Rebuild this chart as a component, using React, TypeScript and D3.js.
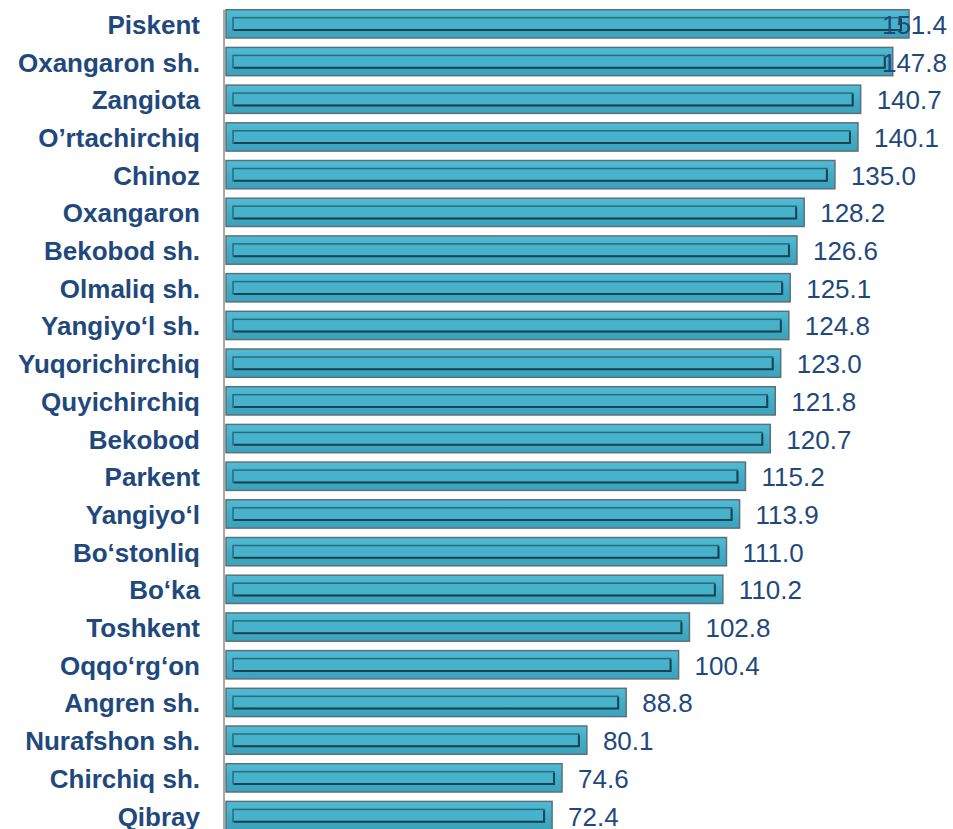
import React from 'react';
import * as d3 from 'd3';

// districts, top to bottom
const categories = [
  'Piskent', 'Oxangaron sh.', 'Zangiota', 'O’rtachirchiq', 'Chinoz', 'Oxangaron ',
  'Bekobod sh.', 'Olmaliq sh.', 'Yangiyo‘l sh.', 'Yuqorichirchiq', 'Quyichirchiq',
  'Bekobod', 'Parkent', 'Yangiyo‘l', 'Bo‘stonliq', 'Bo‘ka', 'Toshkent', 'Oqqo‘rg‘on',
  'Angren sh.', 'Nurafshon sh.', 'Chirchiq sh.', 'Qibray',
];
const values = [
  151.4, 147.8, 140.7, 140.1, 135.0, 128.2, 126.6, 125.1, 124.8, 123.0, 121.8,
  120.7, 115.2, 113.9, 111.0, 110.2, 102.8, 100.4, 88.8, 80.1, 74.6, 72.4,
];

const width = 953;
const height = 829;
const margin = { top: 5, left: 225, rightEdge: 947 };
const fontSize = 26;
const textColor = '#1f497d';

// rough width of a number label in Arial at fontSize
const labelWidth = (s: string) =>
  s.split('').reduce((w, c) => w + (c === '.' ? 0.278 : 0.556), 0) * fontSize;

const App = () => {
  const x = d3.scaleLinear().domain([0, 151.4]).range([margin.left, 909]);
  const y = d3.scaleBand<string>()
    .domain(categories)
    .range([margin.top, margin.top + categories.length * 37.7])
    .paddingInner(0.25)
    .paddingOuter(0.125);
  const bh = y.bandwidth();

  return (
    <svg width={width} height={height} style={{ position: 'absolute', left: 0, top: 0 }}
      fontFamily="'Liberation Sans', Arial, sans-serif">
      <defs>
        <linearGradient id="barFill" x1="0" y1="0" x2="0" y2="1">
          <stop offset="0" stopColor="#52bcd6" />
          <stop offset="0.5" stopColor="#41adc8" />
          <stop offset="1" stopColor="#3aa2bd" />
        </linearGradient>
      </defs>
      {categories.map((c, i) => {
        const v = values[i];
        const y0 = y(c)!;
        const x1 = x(v);
        const label = v.toFixed(1);
        const lw = labelWidth(label);
        const lx = Math.min(x1 + 16, margin.rightEdge - lw);
        return (
          <g key={c}>
            <rect x={x(0) + 1} y={y0} width={x1 - x(0) - 1} height={bh}
              fill="url(#barFill)" stroke="#5d7078" strokeWidth={1.5} />
            {/* inner bevel */}
            <rect x={x(0) + 8} y={y0 + 8} width={Math.max(0, x1 - x(0) - 16)} height={bh - 16}
              fill="#46b2cc" stroke="#2f6a79" strokeWidth={1.5} />
            <path d={`M${x(0) + 9},${y0 + bh - 8} H${x1 - 8} V${y0 + 9}`}
              fill="none" stroke="#1c4450" strokeWidth={2} />
            <text x={200} y={y0 + bh / 2 + 10} textAnchor="end" fontWeight="bold"
              fontSize={fontSize} fill={textColor}>{c}</text>
            <text x={lx} y={y0 + bh / 2 + 10} fontSize={fontSize} fill={textColor}>{label}</text>
          </g>
        );
      })}
      <line x1={224} x2={224} y1={y(categories[0])! } y2={height} stroke="#8a8a8a" strokeWidth={1.5} />
    </svg>
  );
};

export default App;
